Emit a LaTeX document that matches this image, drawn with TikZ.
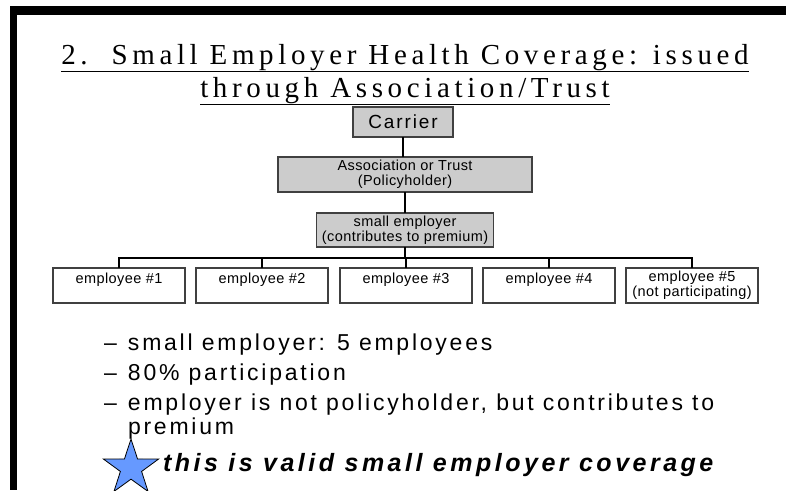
\documentclass[tikz,border=0pt]{standalone}
\usepackage{fontspec}
\setmainfont{Liberation Sans}
\newfontfamily\titlefont[LetterSpace=16]{Liberation Serif}
\newfontfamily\boxfont[LetterSpace=3]{Liberation Sans}
\newfontfamily\carrierfont[LetterSpace=10]{Liberation Sans}
\newfontfamily\bulletfont[LetterSpace=12]{Liberation Sans}
\newfontfamily\validfont[LetterSpace=14]{Liberation Sans}
\usetikzlibrary{shapes.geometric}
\definecolor{boxgray}{RGB}{204,204,204}
\definecolor{edgegray}{RGB}{64,64,64}
\definecolor{starblue}{RGB}{102,153,255}

\begin{document}
\begin{tikzpicture}[x=1pt, y=-1pt,
        every node/.style={inner sep=0pt, outer sep=0pt},
        graybox/.style={draw=edgegray, fill=boxgray, line width=1.5pt, align=center,
            font=\boxfont\fontsize{14.5}{15}\selectfont},
        empbox/.style={draw=edgegray, fill=white, line width=1.2pt, align=center,
            minimum width=132, minimum height=35, font=\boxfont\fontsize{14.5}{15}\selectfont},
        link/.style={line width=2pt},
        bullet/.style={anchor=base west, align=left, font=\bulletfont\fontsize{23}{24}\selectfont},
        titleline/.style={anchor=base, font=\titlefont\fontsize{29}{34}\selectfont}
]
    \useasboundingbox (0,0) rectangle (786,490);
    % frame
    \fill (10,6) rectangle (786,15);
    \fill (10,6) rectangle (17,490);

    \node[titleline] (title1) at (405,64) {\underline{2.\ \ Small Employer Health Coverage: issued}};
    \node[titleline] (title2) at (405,97) {\underline{through Association/Trust}};

    \node[graybox, minimum width=100, minimum height=30, font=\carrierfont\fontsize{19}{20}\selectfont] (carrier) at (403,122) {Carrier};
    \node[graybox, minimum width=254, minimum height=35] (assoc) at (405,174.5)
        {Association or Trust\\(Policyholder)};
    \node[graybox, minimum width=177, minimum height=34] (smallemp) at (405,230)
        {small employer\\(contributes to premium)};
    \coordinate (bus) at (0,258);

    \node[empbox] (emp1) at (119,285.5) {employee \#1\\\mbox{}};
    \node[empbox] (emp2) at (262,285.5) {employee \#2\\\mbox{}};
    \node[empbox] (emp3) at (406,285.5) {employee \#3\\\mbox{}};
    \node[empbox] (emp4) at (549,285.5) {employee \#4\\\mbox{}};
    \node[empbox] (emp5) at (692,285.5) {employee \#5\\(not participating)};

    \draw[link] (carrier.south) -- (carrier.south |- assoc.north);
    \draw[link] (assoc.south) -- (smallemp.north);
    \foreach \i in {1,...,5}
        \draw[link] (smallemp.south) -- (smallemp.south |- bus) -| (emp\i.north);

    \node[bullet] (b1) at (104,350) {\makebox[24pt][l]{–}small employer: 5 employees};
    \node[bullet] (b2) at (104,380) {\makebox[24pt][l]{–}80\% participation};
    \node[bullet] (b3) at (104,434) {\makebox[24pt][l]{–}employer is not policyholder, but contributes to\\\hspace*{24pt}premium};

    \node[star, star points=5, star point ratio=2.6, minimum size=58, draw, fill=starblue, line width=0.8pt] (star) at (131,468) {};
    \node[anchor=base west, font=\validfont\fontsize{25}{26}\selectfont\bfseries\itshape] (valid) at (163,471)
        {this is valid small employer coverage};
\end{tikzpicture}
\end{document}
